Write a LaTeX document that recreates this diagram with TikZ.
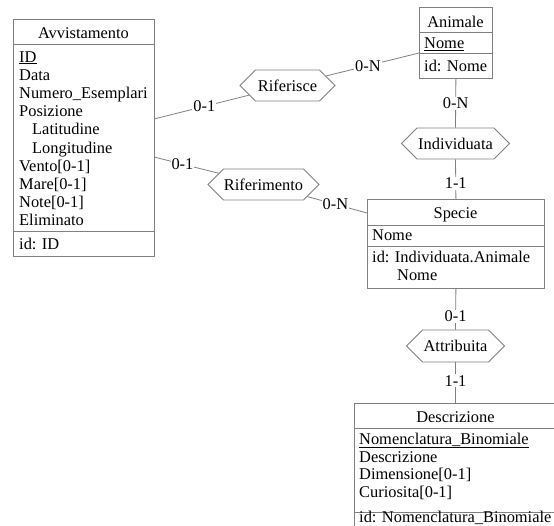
\documentclass[tikz,border=0pt]{standalone}
\usepackage{fontspec}
\setmainfont{Liberation Serif}
\usetikzlibrary{shapes.symbols}
\definecolor{lc}{RGB}{128,128,128}
\begin{document}
\begin{tikzpicture}[x=1pt,y=-1pt,
  every node/.style={font=\fontsize{16.4}{18}\selectfont, text=black},
  ent/.style={draw=lc, line width=0.8pt, fill=white, rectangle, inner sep=0pt, anchor=north west},
  txt/.style={anchor=base west, inner sep=0pt},
  ttl/.style={anchor=base, inner sep=0pt},
  rel/.style={draw=lc, line width=0.8pt, fill=white, shape=signal, signal to=east and west,
              signal pointer angle=90, inner sep=0pt, minimum height=31pt},
  lab/.style={fill=white, inner sep=1pt},
  conn/.style={draw=lc, line width=0.8pt},
  sep/.style={draw=lc, line width=0.8pt}]
\clip (0,0) rectangle (554,525);
\fill[white] (0,0) rectangle (554,525);

% ---------- Avvistamento ----------
\node[ent, minimum width=141pt, minimum height=237pt] (avv) at (13,19) {};
\draw[sep] (13,44) -- (154,44);
\draw[sep] (13,231) -- (154,231);
\node[ttl] (avvT) at (83.5,38) {Avvistamento};
\node[txt] (avv1) at (19,62) {\underline{ID}};
\node[txt] (avv2) at (19,80.2) {Data};
\node[txt] (avv3) at (19,98.4) {Numero\_Esemplari};
\node[txt] (avv4) at (19,116.6) {Posizione};
\node[txt] (avv5) at (32,134.8) {Latitudine};
\node[txt] (avv6) at (32,153) {Longitudine};
\node[txt] (avv7) at (19,171.2) {Vento[0-1]};
\node[txt] (avv8) at (19,189.4) {Mare[0-1]};
\node[txt] (avv9) at (19,207.6) {Note[0-1]};
\node[txt] (avv10) at (19,225.8) {Eliminato};
\node[txt] (avvId) at (19,249) {id: ID};

% ---------- Animale ----------
\node[ent, minimum width=73pt, minimum height=71pt] (ani) at (419,7) {};
\draw[sep] (419,32) -- (492,32);
\draw[sep] (419,53) -- (492,53);
\node[ttl] (aniT) at (455.5,27) {Animale};
\node[txt] (ani1) at (424,48.5) {\underline{Nome}};
\node[txt] (aniId) at (424,71) {id: Nome};

% ---------- Specie ----------
\node[ent, minimum width=177pt, minimum height=89pt] (spe) at (367,199) {};
\draw[sep] (367,225) -- (544,225);
\draw[sep] (367,246) -- (544,246);
\node[ttl] (speT) at (455.5,218) {Specie};
\node[txt] (spe1) at (372,240) {Nome};
\node[txt] (speId) at (372,262) {id: Individuata.Animale};
\node[txt] (speId2) at (397,280) {Nome};

% ---------- Descrizione ----------
\node[ent, minimum width=220pt, minimum height=140pt] (des) at (354,403) {};
\draw[sep] (354,428) -- (574,428);
\draw[sep] (354,512) -- (574,512);
\node[ttl] (desT) at (455.5,422) {Descrizione};
\node[txt] (des1) at (359,444) {\underline{Nomenclatura\_Binomiale}};
\node[txt] (des2) at (359,462) {Descrizione};
\node[txt] (des3) at (359,479.5) {Dimensione[0-1]};
\node[txt] (des4) at (359,497) {Curiosita[0-1]};
\node[txt] (desId) at (359,522.5) {id: Nomenclatura\_Binomiale};

% ---------- Relationships ----------
\node[rel, minimum width=95pt] (rif) at (287.5,85.5) {Riferisce};
\node[rel, minimum width=111pt] (rfm) at (263.5,184.5) {Riferimento};
\node[rel, minimum width=108pt] (ind) at (455.5,143.5) {Individuata};
\node[rel, minimum width=98pt, minimum height=32pt] (att) at (455.5,346) {Attribuita};

% ---------- Connectors ----------
\coordinate (avvA) at (154,119);
\coordinate (avvB) at (154,157);
\coordinate (aniA) at (419,53);
\coordinate (speA) at (367,213);
\draw[conn] (avvA) -- node[lab,pos=0.53] (l1) {0-1} (rif);
\draw[conn] (rif) -- node[lab,pos=0.45] (l2) {0-N} (aniA);
\draw[conn] (avvB) -- node[lab,pos=0.44] (l3) {0-1} (rfm);
\draw[conn] (rfm) -- node[lab,pos=0.47] (l4) {0-N} (speA);
\draw[conn] (ani.south) -- node[lab,pos=0.5] (l5) {0-N} (ind.north);
\draw[conn] (ind.south) -- node[lab,pos=0.6] (l6) {1-1} (spe.north);
\draw[conn] (spe.south) -- node[lab,pos=0.67] (l7) {0-1} (att.north);
\draw[conn] (att.south) -- node[lab,pos=0.45] (l8) {1-1} (att.south |- des.north);
\end{tikzpicture}
\end{document}
